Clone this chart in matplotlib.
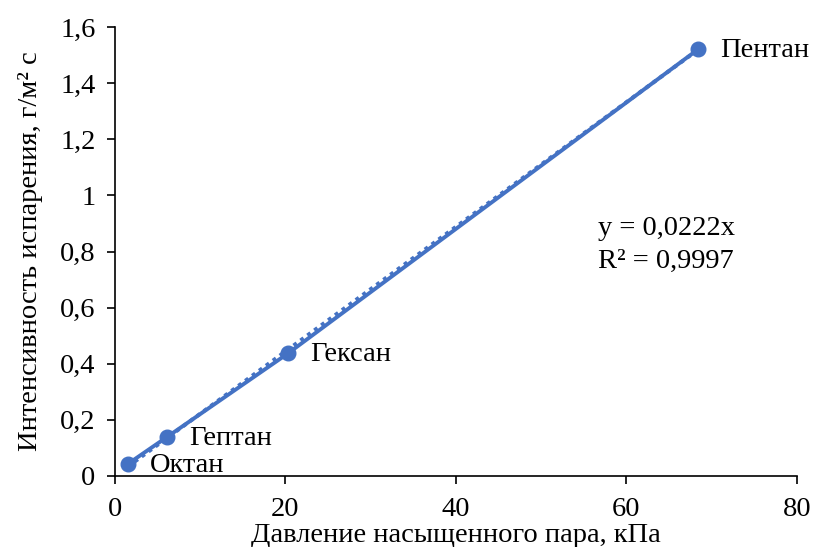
import numpy as np
import matplotlib
matplotlib.use('Agg')
import matplotlib.pyplot as plt
from matplotlib.ticker import FuncFormatter

plt.rcParams['font.family'] = ['Liberation Serif', 'DejaVu Serif']

names = ['Октан', 'Гептан', 'Гексан', 'Пентан']
pressure = [1.5, 6.1, 20.3, 68.4]
intensity = [0.043, 0.139, 0.437, 1.52]
slope = 0.0222

blue = '#4472C4'
fs = 20.5

fig = plt.figure(figsize=(8.13, 5.47), dpi=100)
ax = fig.add_axes([0.1415, 0.1298, 0.8385, 0.8208])

ax.plot(pressure, intensity, color=blue, lw=2.8, marker='o', ms=10.5, zorder=3)

xt = np.array([pressure[0], pressure[-1]])
ax.plot(xt, slope * xt, color=blue, lw=2.8, ls=(0, (1, 1.2)), zorder=2)

for n, x, y in zip(names, pressure, intensity):
    ax.annotate(n, (x, y), xytext=(16, -1), textcoords='offset points',
                fontsize=fs, va='center', ha='left')

ax.text(0.708, 0.514, 'y = 0,0222x\nR² = 0,9997', transform=ax.transAxes,
        fontsize=fs, va='center', ha='left', linespacing=1.4)

ax.set_xlim(0, 80)
ax.set_ylim(0, 1.6)
ax.set_xticks([0, 20, 40, 60, 80])
ax.set_yticks(np.arange(0, 1.61, 0.2))
fmt = FuncFormatter(lambda v, p: ('%g' % round(v, 2)).replace('.', ','))
ax.xaxis.set_major_formatter(fmt)
ax.yaxis.set_major_formatter(fmt)
ax.tick_params(labelsize=fs, length=6, width=1.2, color='black')
ax.tick_params(axis='x', pad=9)
ax.tick_params(axis='y', pad=8)

ax.spines['top'].set_visible(False)
ax.spines['right'].set_visible(False)
for s in ['left', 'bottom']:
    ax.spines[s].set_linewidth(1.2)

ax.set_xlabel('Давление насыщенного пара, кПа', fontsize=fs, labelpad=1)
ax.set_ylabel('Интенсивность испарения, г/м² с', fontsize=fs, labelpad=12)

plt.savefig('out.png', dpi=100)
